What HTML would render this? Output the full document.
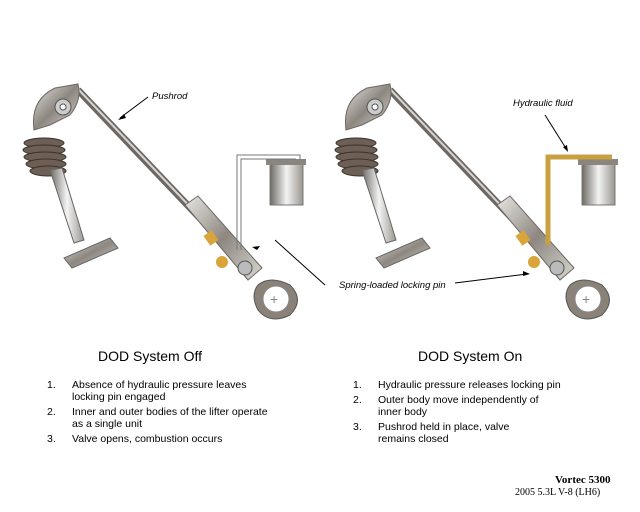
<!DOCTYPE html>
<html><head><style>
body{margin:0;background:#fff;width:640px;height:512px;overflow:hidden;position:relative;font-family:"Liberation Sans",sans-serif}
.t{position:absolute;font-size:10.5px;color:#000;line-height:12px}
h3{position:absolute;margin:0;font-size:14px;font-weight:normal}
.n{position:absolute;font-size:10.5px}
</style></head><body>
<svg width="640" height="340" style="position:absolute;left:0;top:0">
<defs>
<linearGradient id="m" x1="0" y1="0" x2="1" y2="1"><stop offset="0" stop-color="#e8e6e2"/><stop offset=".5" stop-color="#8d8780"/><stop offset="1" stop-color="#d9d6d1"/></linearGradient>
<linearGradient id="c" x1="0" x2="1"><stop offset="0" stop-color="#6d6862"/><stop offset=".5" stop-color="#f4f4f4"/><stop offset="1" stop-color="#9a958f"/></linearGradient>
<g id="asm">
 <line x1="78" y1="90" x2="235" y2="255" stroke="#6d6863" stroke-width="7"/>
 <line x1="78" y1="89" x2="235" y2="254" stroke="#d8d6d3" stroke-width="2"/>
 <path d="M34 130 Q30 100 55 88 L78 84 Q82 100 70 115 L50 125 Z" fill="url(#m)" stroke="#6d6862"/>
 <circle cx="63" cy="107" r="8" fill="#ccc" stroke="#555"/><circle cx="63" cy="107" r="3" fill="#fff" stroke="#555"/>
 <g fill="#6d5f55" stroke="#3a322c">
 <ellipse cx="44" cy="143" rx="20" ry="5"/><ellipse cx="44" cy="150" rx="21" ry="5"/><ellipse cx="45" cy="157" rx="21" ry="5"/><ellipse cx="46" cy="164" rx="20" ry="5"/><ellipse cx="48" cy="171" rx="18" ry="5"/></g>
 <path d="M50 170 L62 168 L84 240 L74 243 Z" fill="url(#c)" stroke="#666"/>
 <path d="M64 258 L110 238 L118 248 L72 268 Z" fill="url(#m)" stroke="#666"/>
 <path d="M185 205 L198 196 L262 268 L248 280 Z" fill="url(#m)" stroke="#6d6862"/>
 <rect x="206" y="232" width="10" height="12" fill="#d9a43a" transform="rotate(-35 211 238)"/>
 <circle cx="222" cy="262" r="6" fill="#d9a43a"/>
 <circle cx="245" cy="268" r="7" fill="#bbb" stroke="#555"/>
 <path d="M258 285 Q270 275 290 285 Q305 300 290 315 Q270 325 258 310 Q250 295 258 285Z" fill="#8a8278" stroke="#555"/>
 <circle cx="276" cy="299" r="13" fill="#fff" stroke="#888"/>
 <text x="270" y="304" font-size="14" fill="#888">+</text>
 <rect x="270" y="163" width="33" height="42" fill="url(#c)" stroke="#777"/>
 <rect x="266" y="159" width="40" height="6" fill="#8a857f"/>
</g>
</defs>
<use href="#asm"/>
<use href="#asm" transform="translate(312,0)"/>
<path d="M237 250 V155 H300 V160" fill="none" stroke="#777" stroke-width="1"/>
<path d="M241 250 V159 H296" fill="none" stroke="#777" stroke-width="1"/>
<path d="M548 245 V157 H612" fill="none" stroke="#c9a040" stroke-width="5"/>
<g stroke="#000" stroke-width="1">
<line x1="148" y1="97" x2="120" y2="118"/><line x1="545" y1="115" x2="567" y2="150"/>
<line x1="325" y1="285" x2="275" y2="240"/><line x1="455" y1="283" x2="527" y2="274"/>
</g>
<g fill="#000"><path d="M118 120 l6 -6 l2 4z"/><path d="M568 152 l-5 -5 l4 -2z"/><path d="M252 247 l8 -1 l-3 4z"/><path d="M530 274 l-7 -3 l0 5z"/></g>
<g font-style="italic" font-size="9.5" font-family="Liberation Sans">
<text x="152" y="99">Pushrod</text>
<text x="513" y="106">Hydraulic fluid</text>
<text x="339" y="288">Spring-loaded locking pin</text>
</g>
</svg>
<h3 style="left:98px;top:348px">DOD System Off</h3>
<h3 style="left:418px;top:348px">DOD System On</h3>
<div class="n" style="left:47px;top:379px">1.</div><div class="t" style="left:72px;top:379px">Absence of hydraulic pressure leaves<br>locking pin engaged</div>
<div class="n" style="left:47px;top:406px">2.</div><div class="t" style="left:72px;top:406px">Inner and outer bodies of the lifter operate<br>as a single unit</div>
<div class="n" style="left:47px;top:433px">3.</div><div class="t" style="left:72px;top:433px">Valve opens, combustion occurs</div>
<div class="n" style="left:353px;top:379px">1.</div><div class="t" style="left:378px;top:379px">Hydraulic pressure releases locking pin</div>
<div class="n" style="left:353px;top:394px">2.</div><div class="t" style="left:378px;top:394px">Outer body move independently of<br>inner body</div>
<div class="n" style="left:353px;top:421px">3.</div><div class="t" style="left:378px;top:421px">Pushrod held in place, valve<br>remains closed</div>
<div style="position:absolute;left:555px;top:474px;font-family:'Liberation Serif',serif;font-weight:bold;font-size:11px">Vortec 5300</div>
<div style="position:absolute;left:515px;top:487px;font-family:'Liberation Serif',serif;font-size:10px">2005 5.3L V-8 (LH6)</div>
</body></html>
